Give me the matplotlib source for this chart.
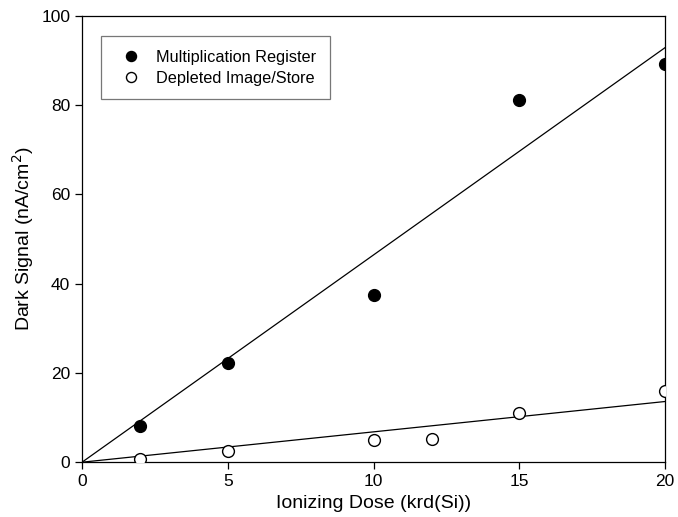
import numpy as np
import matplotlib
matplotlib.use("Agg")
import matplotlib.pyplot as plt

plt.rcParams["font.family"] = ["Liberation Sans", "DejaVu Sans"]

# Dark signal vs ionizing dose
dose_mr = [2, 5, 10, 15, 20]
signal_mr = [8.1, 22.2, 37.4, 81.2, 89.2]
dose_ds = [2, 5, 10, 12, 15, 20]
signal_ds = [0.7, 2.5, 5.0, 5.2, 11.1, 15.9]


def fit_origin(x, y):
    x = np.asarray(x, float)
    y = np.asarray(y, float)
    return (x * y).sum() / (x * x).sum()


fig = plt.figure(figsize=(6.78, 5.17), dpi=100)
ax = fig.add_axes([0.121, 0.106, 0.860, 0.863])

xfit = np.array([0, 20])
ax.plot(xfit, fit_origin(dose_mr, signal_mr) * xfit, color="black", lw=0.9)
ax.plot(xfit, fit_origin(dose_ds, signal_ds) * xfit, color="black", lw=0.9)

ax.plot(dose_mr, signal_mr, "o", color="black", ms=8.5, label="Multiplication Register",
        zorder=3)
ax.plot(dose_ds, signal_ds, "o", mfc="white", mec="black", mew=1.0, ms=8.5,
        label="Depleted Image/Store", zorder=3)

ax.set_xlim(0, 20)
ax.set_ylim(0, 100)
ax.set_xticks([0, 5, 10, 15, 20])
ax.set_yticks([0, 20, 40, 60, 80, 100])
ax.tick_params(direction="out", length=5, width=0.9, labelsize=12.5, top=False, right=False)
for s in ax.spines.values():
    s.set_linewidth(0.9)

ax.set_xlabel("Ionizing Dose (krd(Si))", fontsize=14)
ax.set_ylabel("Dark Signal (nA/cm$^2$)", fontsize=14)

leg = ax.legend(loc="upper left", bbox_to_anchor=(0.0326, 0.955), fontsize=11.7,
                frameon=True, fancybox=False, edgecolor="#555555",
                borderpad=0.85, borderaxespad=0, handletextpad=0.55,
                labelspacing=0.35, handlelength=2.0, markerscale=0.85)
leg.get_frame().set_linewidth(0.9)

fig.savefig("out.png", dpi=100)
